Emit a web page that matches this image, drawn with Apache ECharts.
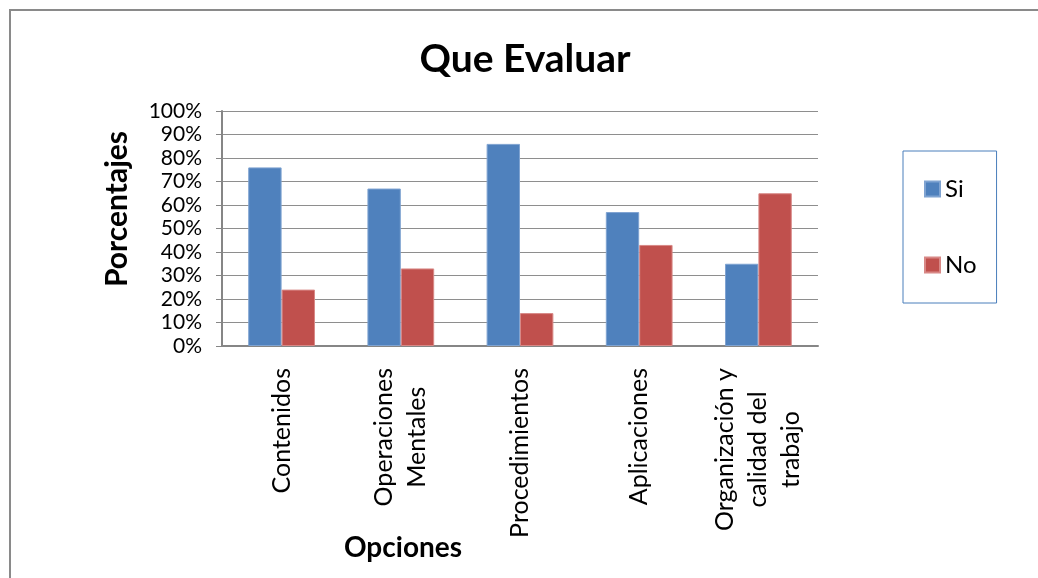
<!DOCTYPE html>
<html>
<head>
<meta charset="utf-8">
<script src="https://cdn.jsdelivr.net/npm/echarts@6/dist/echarts.min.js"></script>
<style>
html,body{margin:0;padding:0;background:#fff;}
#chart{width:1038px;height:578px;}
</style>
</head>
<body>
<div id="chart"></div>
<script>
const categories = ['Contenidos', 'Operaciones\nMentales', 'Procedimientos', 'Aplicaciones', 'Organización y\ncalidad del\ntrabajo'];
const siValues = [76, 67, 86, 57, 35];
const noValues = [24, 33, 14, 43, 65];
const seriesNames = ['Si', 'No'];
const titleText = 'Que Evaluar';
const yAxisTitle = 'Porcentajes';
const xAxisTitle = 'Opciones';

const FONT = 'Lato, "Open Sans", sans-serif';
const chart = echarts.init(document.getElementById('chart'), null, {renderer: 'canvas'});

chart.setOption({
  animation: false,
  backgroundColor: '#ffffff',
  title: {
    text: titleText,
    left: 520,
    textAlign: 'center',
    top: 35,
    textStyle: {fontFamily: FONT, fontWeight: 'bold', fontSize: 39, color: '#000'}
  },
  legend: {
    orient: 'vertical',
    left: 903,
    top: 151,
    padding: [26, 20, 26, 21],
    itemGap: 52,
    itemWidth: 15,
    itemHeight: 15,
    borderColor: '#4A7EBB',
    borderWidth: 1,
    icon: 'rect',
    textStyle: {fontFamily: FONT, fontSize: 24, color: '#000'},
    data: seriesNames
  },
  grid: {left: 222, right: 220, top: 111, bottom: 232, containLabel: false},
  xAxis: {
    type: 'category',
    data: categories,
    axisLine: {lineStyle: {color: '#868686', width: 2}},
    axisTick: {show: false},
    axisLabel: {
      rotate: 90,
      margin: 22,
      interval: 0,
      formatter: function (v) {
        return v.split('\n').map(function (s) { return '{c|' + s + '}'; }).join('\n');
      },
      rich: {
        c: {fontFamily: FONT, fontSize: 25, color: '#000', align: 'center', lineHeight: 33}
      }
    }
  },
  yAxis: {
    type: 'value',
    min: 0,
    max: 100,
    interval: 10,
    axisLine: {show: true, lineStyle: {color: '#868686', width: 2}},
    axisTick: {show: true, length: 6, lineStyle: {color: '#868686'}},
    splitLine: {lineStyle: {color: '#8E8E8E', width: 1}},
    axisLabel: {
      formatter: '{value}%',
      margin: 20,
      fontFamily: FONT,
      fontSize: 21,
      color: '#000'
    }
  },
  series: [
    {
      name: seriesNames[0],
      type: 'bar',
      data: siValues,
      barGap: '0%',
      barCategoryGap: '44%',
      itemStyle: {color: '#4F81BD', borderColor: '#7FA3D1', borderWidth: 1}
    },
    {
      name: seriesNames[1],
      type: 'bar',
      data: noValues,
      barGap: '0%',
      barCategoryGap: '44%',
      itemStyle: {color: '#C0504D', borderColor: '#D88886', borderWidth: 1}
    }
  ],
  graphic: [
    {
      type: 'rect',
      shape: {x: 10, y: 10, width: 1200, height: 800},
      style: {fill: 'none', stroke: '#8A8A8A', lineWidth: 2},
      silent: true,
      z: -10
    },
    {
      type: 'text',
      x: 117,
      y: 209,
      rotation: Math.PI / 2,
      style: {
        text: yAxisTitle,
        fontFamily: FONT,
        fontWeight: 'bold',
        fontSize: 30,
        fill: '#000',
        align: 'center',
        verticalAlign: 'middle'
      }
    },
    {
      type: 'text',
      x: 403,
      y: 548,
      style: {
        text: xAxisTitle,
        fontFamily: FONT,
        fontWeight: 'bold',
        fontSize: 28,
        fill: '#000',
        align: 'center',
        verticalAlign: 'middle'
      }
    }
  ]
});
</script>
</body>
</html>
